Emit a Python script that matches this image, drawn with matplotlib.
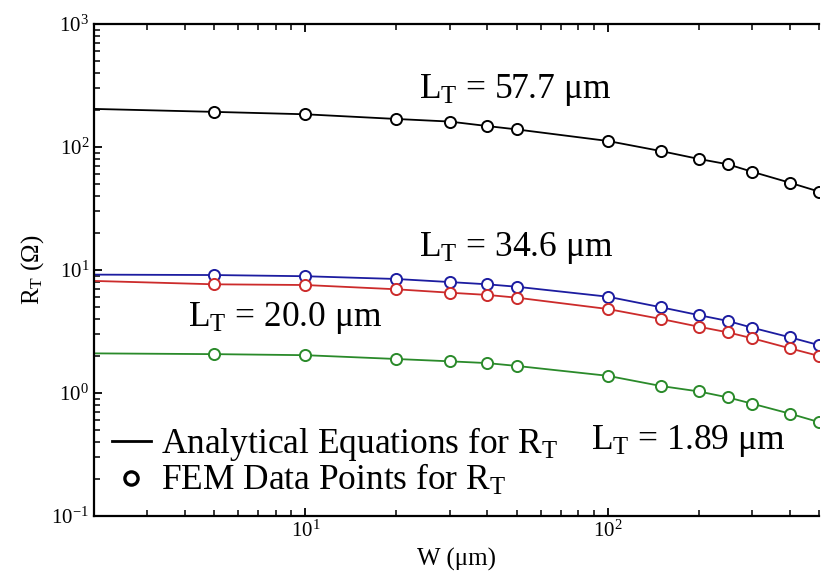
import numpy as np
import matplotlib
matplotlib.use("Agg")
import matplotlib.pyplot as plt
from matplotlib.lines import Line2D

plt.rcParams['font.family'] = ['Liberation Serif', 'DejaVu Serif']
plt.rcParams['mathtext.fontset'] = 'custom'
plt.rcParams['mathtext.rm'] = 'Liberation Serif'
plt.rcParams['mathtext.it'] = 'Liberation Serif:italic'

# FEM data points (W in um, R_T in ohm)
w_fem = [5, 10, 20, 30, 40, 50, 100, 150, 200, 250, 300, 400, 500]
rt_577 = [193, 184.5, 169, 161, 148, 139, 112, 92.7, 80, 72.3, 63, 51.3, 43.4]
rt_346 = [9.1, 8.9, 8.45, 7.98, 7.65, 7.31, 6.07, 4.98, 4.3, 3.85, 3.4, 2.84, 2.45]
rt_200 = [7.65, 7.55, 6.97, 6.54, 6.27, 5.96, 4.82, 4.0, 3.46, 3.11, 2.79, 2.31, 2.0]
rt_189 = [2.07, 2.03, 1.89, 1.81, 1.75, 1.66, 1.38, 1.14, 1.03, 0.92, 0.82, 0.68, 0.58]

# analytical curves, start value at W = 2 um then through the points
w_line = [2] + w_fem
line_577 = [204] + rt_577
line_346 = [9.17] + rt_346
line_200 = [8.15] + rt_200
line_189 = [2.10] + rt_189

labels = [r'$\mathregular{L_T}$ = 57.7 μm', r'$\mathregular{L_T}$ = 34.6 μm',
          r'$\mathregular{L_T}$ = 20.0 μm', r'$\mathregular{L_T}$ = 1.89 μm']

fig = plt.figure(figsize=(8.23, 5.85), dpi=100)
ax = fig.add_axes([94/823, 69/585, 725/823, 492/585])

series = [(line_577, rt_577, 'black'),
          (line_346, rt_346, '#1c1ca0'),
          (line_200, rt_200, '#cc2b2b'),
          (line_189, rt_189, '#2a8a2a')]
for ln, pts, col in series:
    ax.plot(w_line, ln, color=col, lw=1.3)
    ax.plot(w_fem, pts, 'o', ms=8, mfc='white', mec=col, mew=1.4)

ax.set_xscale('log')
ax.set_yscale('log')
ax.set_xlim(2, 500)
ax.set_ylim(0.1, 1000)

ax.text(23.8, 250, labels[0], fontsize=25.5)
ax.text(23.8, 13, labels[1], fontsize=25.5)
ax.text(4.08, 3.5, labels[2], fontsize=25.5)
ax.text(88, 0.35, labels[3], fontsize=25.5)

handles = [Line2D([], [], color='black', lw=2),
           Line2D([], [], ls='none', marker='o', ms=9.5, mfc='white', mec='black', mew=2.4)]
ax.legend(handles, [r'Analytical Equations for $\mathregular{R_T}$',
                    r'FEM Data Points for $\mathregular{R_T}$'],
          loc='lower left', bbox_to_anchor=(0.0, 0.0), frameon=False, fontsize=25.5,
          handlelength=1.1, handletextpad=0.28, labelspacing=0.0,
          borderpad=0.2, borderaxespad=0.3)

ax.set_xlabel('W (μm)', fontsize=18, labelpad=4)
ax.set_ylabel(r'$\mathregular{R_T}$ (Ω)', fontsize=18, labelpad=4)

ax.spines['right'].set_visible(False)
for s in ['left', 'bottom', 'top']:
    ax.spines[s].set_linewidth(1.6)
ax.tick_params(which='both', direction='in', top=True, right=False, labelsize=15)
ax.tick_params(which='major', length=6, width=1.3)
ax.tick_params(which='minor', length=4, width=1.1)

fig.savefig('out.png', dpi=100)
